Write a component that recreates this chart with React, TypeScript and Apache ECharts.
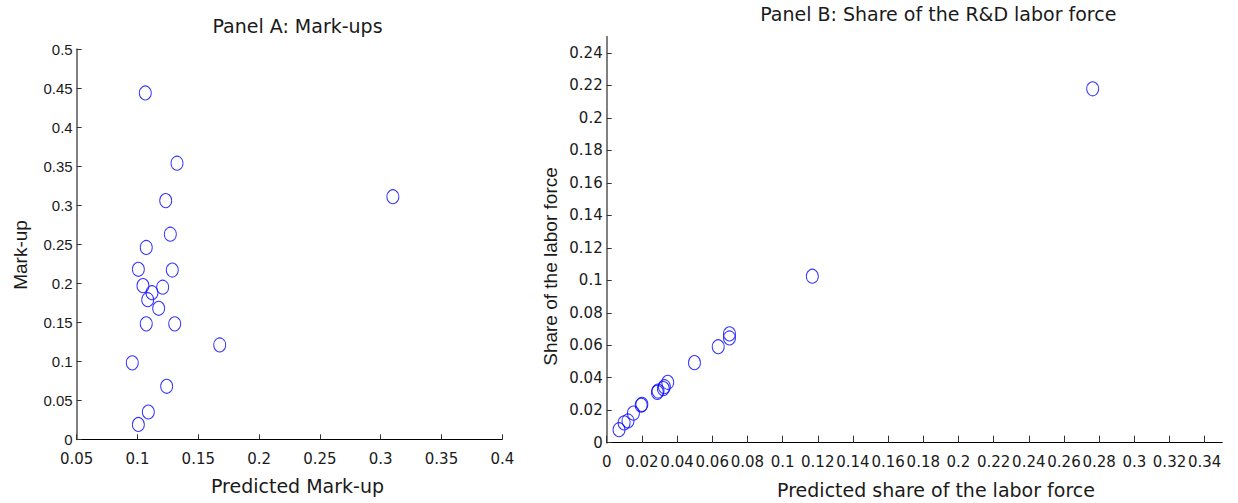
import React, { useEffect, useRef } from "react";
import * as echarts from "echarts";

// Panel A: Mark-ups
const markupPredicted = [0.1064, 0.1325, 0.1232, 0.310, 0.127, 0.1072, 0.1007, 0.1286, 0.1045, 0.1207, 0.1119, 0.1084, 0.1174, 0.1072, 0.1306, 0.1676, 0.0957, 0.124, 0.1089, 0.1007];
const markupActual = [0.444, 0.354, 0.306, 0.311, 0.263, 0.246, 0.218, 0.217, 0.197, 0.195, 0.188, 0.179, 0.168, 0.148, 0.148, 0.121, 0.098, 0.068, 0.035, 0.019];

// Panel B: Share of the R&D labor force
const sharePredicted = [0.0070, 0.0099, 0.0121, 0.0152, 0.0196, 0.0200, 0.0288, 0.0292, 0.0322, 0.0328, 0.0347, 0.0499, 0.0634, 0.0698, 0.0698, 0.1169, 0.2763];
const shareActual = [0.0080, 0.0122, 0.0134, 0.0182, 0.0231, 0.0236, 0.0310, 0.0318, 0.0333, 0.0345, 0.0372, 0.0493, 0.0591, 0.0670, 0.0645, 0.1025, 0.2179];

// Tick values
const ticksAX = [0.05, 0.1, 0.15, 0.2, 0.25, 0.3, 0.35, 0.4];
const ticksAY = [0, 0.05, 0.1, 0.15, 0.2, 0.25, 0.3, 0.35, 0.4, 0.45, 0.5];
const ticksBX = [0, 0.02, 0.04, 0.06, 0.08, 0.1, 0.12, 0.14, 0.16, 0.18, 0.2, 0.22, 0.24, 0.26, 0.28, 0.3, 0.32, 0.34];
const ticksBY = [0, 0.02, 0.04, 0.06, 0.08, 0.1, 0.12, 0.14, 0.16, 0.18, 0.2, 0.22, 0.24];

const titleA = "Panel A: Mark-ups";
const titleB = "Panel B: Share of the R&D labor force";
const xNameA = "Predicted Mark-up";
const yNameA = "Mark-up";
const xNameB = "Predicted share of the labor force";
const yNameB = "Share of the labor force";

const TXT = "#1a1a1a";
const wideFont = "DejaVu Sans";
const armFont = "Liberation Sans";

function xAxisCfg(gridIndex: number, min: number, max: number, ticks: number[], fs: number, tickLen: number) {
  return {
    type: "value",
    gridIndex,
    min,
    max,
    splitLine: { show: false },
    axisLine: { show: true, onZero: false, lineStyle: { color: "#000", width: 1 } },
    axisTick: { show: true, inside: true, length: tickLen, customValues: ticks, lineStyle: { color: "#333", width: 1 } },
    axisLabel: {
      show: true,
      customValues: ticks,
      showMinLabel: true,
      showMaxLabel: true,
      hideOverlap: false,
      margin: 12,
      color: TXT,
      fontFamily: wideFont,
      fontSize: fs,
      formatter: (v: number) => String(v),
    },
  };
}

function yAxisCfg(gridIndex: number, min: number, max: number, ticks: number[], fs: number, family: string) {
  return {
    type: "value",
    gridIndex,
    min,
    max,
    splitLine: { show: false },
    axisLine: { show: true, onZero: false, lineStyle: { color: "#808080", width: 2 } },
    axisTick: { show: true, inside: true, length: 5, customValues: ticks, lineStyle: { color: "#333", width: 1 } },
    axisLabel: {
      show: true,
      customValues: ticks,
      showMinLabel: true,
      showMaxLabel: true,
      margin: 4,
      color: TXT,
      fontFamily: family,
      fontSize: fs,
      formatter: (v: number) => String(v),
    },
  };
}

function label(text: string, x: number, y: number, font: string, rotation = 0) {
  return {
    type: "text",
    x,
    y,
    rotation,
    style: {
      text,
      font,
      fill: TXT,
      align: "center",
      verticalAlign: "middle",
      textAlign: "center",
      textVerticalAlign: "middle",
    },
  };
}

export default function App() {
  const ref = useRef<HTMLDivElement>(null);

  useEffect(() => {
    if (!ref.current) return;
    const chart = echarts.init(ref.current, null, { renderer: "svg" });
    const marker = {
      type: "scatter",
      symbol: "circle",
      symbolSize: [12, 14],
      itemStyle: { color: "rgba(0,0,0,0)", borderColor: "#0000ff", borderWidth: 1 },
    };
    chart.setOption({
      animation: false,
      backgroundColor: "#ffffff",
      grid: [
        { left: 76.7, top: 49.3, width: 425.6, height: 390, containLabel: false },
        { left: 606.7, top: 36.7, width: 615.6, height: 406, containLabel: false },
      ],
      xAxis: [
        xAxisCfg(0, 0.05, 0.4, ticksAX, 15, 5),
        xAxisCfg(1, 0, 0.35, ticksBX, 15, 7),
      ],
      yAxis: [
        yAxisCfg(0, 0, 0.5, ticksAY, 15, armFont),
        yAxisCfg(1, 0, 0.25, ticksBY, 15, wideFont),
      ],
      series: [
        {
          ...marker,
          xAxisIndex: 0,
          yAxisIndex: 0,
          data: markupPredicted.map((x, i) => [x, markupActual[i]]),
        },
        {
          ...marker,
          xAxisIndex: 1,
          yAxisIndex: 1,
          data: sharePredicted.map((x, i) => [x, shareActual[i]]),
        },
      ],
      graphic: [
        label(titleA, 297.5, 26, `19px '${wideFont}'`),
        label(titleB, 938.3, 14, `19px '${wideFont}'`),
        label(xNameA, 297.5, 486, `19px '${wideFont}'`),
        label(xNameB, 936, 490, `19px '${wideFont}'`),
        label(yNameA, 20, 255, `19px '${armFont}'`, Math.PI / 2),
        label(yNameB, 550, 266.5, `19px '${armFont}'`, Math.PI / 2),
      ],
    });
    return () => chart.dispose();
  }, []);

  return (
    <div
      ref={ref}
      style={{ position: "fixed", left: 0, top: 0, width: 1238, height: 503, background: "#fff" }}
    />
  );
}
